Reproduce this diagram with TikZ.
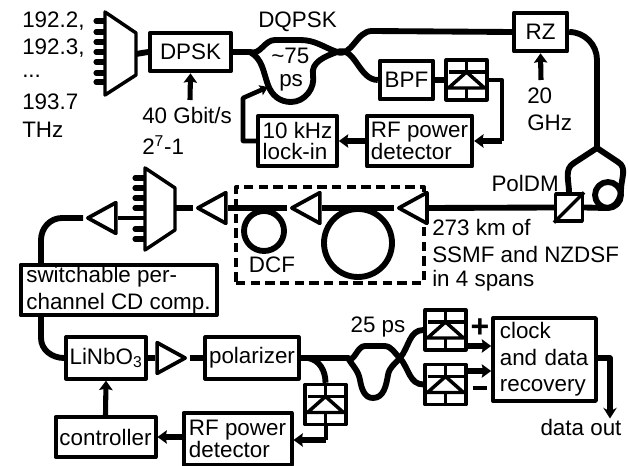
\documentclass[tikz,border=0pt]{standalone}
\usepackage{fontspec}
\setmainfont{Liberation Sans}
\usetikzlibrary{positioning,arrows.meta,shapes.geometric}

\begin{document}
\begin{tikzpicture}[
        x=0.75pt, y=-0.75pt,
        font=\fontsize{16.8}{20}\selectfont,
        line join=round,
        % Styles
        blockbox/.style={rectangle, draw=black, line width=3pt, fill=white, inner sep=0pt, align=left},
        tightbox/.style={blockbox, font=\fontsize{16.8}{16}\selectfont},
        pdbox/.style={rectangle, draw=black, line width=2.6pt, fill=white, inner sep=0pt, minimum width=30.5pt, minimum height=30pt},
        ampli/.style={isosceles triangle, isosceles triangle stretches, draw=black, line width=2.8pt, fill=white, inner sep=0pt, minimum width=23pt, minimum height=21pt},
        fiber/.style={line width=4.4pt},
        wire/.style={line width=2.6pt},
        sig/.style={line width=3.8pt, -{Stealth[length=7pt,width=10pt,inset=1pt]}},
        lbl/.style={inner sep=0pt, anchor=west}
    ]
    \useasboundingbox (0,0) rectangle (628,466);

    % ================= TRANSMITTER =================
    \node[lbl] (fa) at (22,21) {192.2,};
    \node[lbl] (fb) at (22,48) {192.3,};
    \node[lbl] (fc) at (22,76) {...};
    \node[lbl] (fd) at (22,102) {193.7};
    \node[lbl] (fe) at (22,130) {THz};

    % Mux
    \foreach \y in {21,32,42,52,62,73,82} {
        \draw[line width=3.8pt, line cap=round] (96,\y) -- (105,\y);
    }
    \draw[wire, fill=white] (105,12) -- (136,33) -- (136,75) -- (105,95) -- cycle;
    \coordinate (muxout) at (136,54);

    \node[blockbox, minimum width=60.5pt, minimum height=29pt] (dpsk) at (190.5,52) {DPSK};
    \draw[fiber] (muxout) -- (dpsk.west);
    \node[lbl] (bitrate) at (142,115) {40 Gbit/s};
    \node[lbl] (prbs) at (142,145) {2\textsuperscript{7}-1};
    \coordinate (bitin) at (190,100);
    \draw[sig] (bitin) -- (dpsk.south);

    \node[lbl] (dqpsk) at (258,22) {DQPSK};
    \node[lbl] (tau) at (271,56) {\char`\~75};
    \node[lbl] (tauu) at (279,83) {ps};

    % Delay interferometer
    \coordinate (dia) at (250,52);
    \coordinate (dib) at (337,52);
    \draw[fiber] (dpsk.east) -- (dia) to[out=-20,in=180] (275,40) -- (300,40) to[out=0,in=160] (dib);
    \draw[fiber] (dia) to[out=-30,in=110] (268,85) to[out=-70,in=180] (291,102) to[out=0,in=-80] (313,75) to[out=100,in=200] (dib);

    % Boxes of the lock
    \node[blockbox, minimum width=40pt, minimum height=29pt] (rz) at (540.5,32) {RZ};
    \node[blockbox, minimum width=40pt, minimum height=29pt] (bpf) at (406.5,80) {BPF};
    \node[pdbox] (pdtop) at (466.5,80) {};
    \node[tightbox, minimum width=79pt, minimum height=38pt] (rftop) at (419.5,141) {RF power\\detector};
    \node[tightbox, minimum width=59pt, minimum height=38pt] (lockin) at (297.5,141) {10 kHz\\lock-in};

    \draw[fiber] (dib) to[out=-20,in=180] (372,31) -- (rz.west);
    \draw[fiber] (dib) to[out=20,in=180] (bpf.west);
    \draw[fiber] (bpf.east) -- (pdtop.west);
    \coordinate (pdbend) at (502,141);
    \draw[line width=3pt] (pdtop.east) -| (pdbend);
    \draw[sig] (pdbend) -- (rftop.east);
    \draw[sig] (rftop.west) -- (lockin.east);
    \coordinate (lockbend) at (243,98);
    \coordinate (lockend) at (268,87);
    \draw[line width=3.4pt, -{Stealth[length=6pt,width=8pt,inset=1pt]}] (lockin.west) -| (lockbend) -- (lockend);

    % RZ drive
    \node[lbl] (rzf) at (527,96) {20};
    \node[lbl] (rzu) at (527,123) {GHz};
    \coordinate (rzin) at (541,80);
    \draw[sig] (rzin) -- (rz.south);

    % ================= POLARISATION MUX =================
    \node[pdbox, minimum width=20pt, minimum height=20pt] (poldm) at (569,207.5) {};
    \draw[wire] (poldm.south west) -- (poldm.north east);
    \node[inner sep=0pt, anchor=east] (poldmt) at (559,183) {PolDM};
    \coordinate (polsplit) at (597,148);
    \draw[fiber] (rz.east) to[out=0,in=90] (597,60) -- (polsplit);
    \draw[fiber] (polsplit) -- (574,163) to[out=-150,in=90] (poldm.north);
    \draw[fiber] (polsplit) -- (618,162) to[out=-30,in=90] (621,190) to[out=-90,in=0] (606,208) -- (poldm.east);
    \draw[fiber] (608,195) circle[radius=13];

    % ================= LINK =================
    \node[rectangle, draw=black, line width=3pt, dash pattern=on 7pt off 4pt, inner sep=0pt, minimum width=141pt, minimum height=72pt] (dcmbox) at (330,235) {};
    \node[ampli, shape border rotate=180, anchor=apex] (ampa) at (394,208) {};
    \node[ampli, shape border rotate=180, anchor=apex] (ampb) at (287,208) {};
    \node[ampli, shape border rotate=180, anchor=apex] (ampc) at (193,208) {};
    \draw[fiber] (poldm.west) -- (ampa.east);
    \draw[fiber] (ampa.apex) -- (ampb.east);
    \draw[fiber] (ampb.apex) -- (ampc.east);
    \draw[fiber] (358,243) circle[radius=34];
    \draw[fiber] (264,231) circle[radius=20];
    \node[inner sep=0pt] (dcf) at (272,265) {DCF};

    \node[lbl] (spana) at (432,227) {273 km of};
    \node[lbl] (spanb) at (432,254) {SSMF and NZDSF};
    \node[lbl] (spanc) at (432,281) {in 4 spans};

    % Demux
    \foreach \y in {178,188,198,208,229,239} {
        \draw[line width=3.8pt, line cap=round] (135,\y) -- (145,\y);
    }
    \draw[wire, fill=white] (145,168) -- (175,188) -- (175,230) -- (145,250) -- cycle;
    \coordinate (demuxin) at (175,208);
    \coordinate (demuxout) at (145,218);
    \draw[fiber] (ampc.apex) -- (demuxin);
    \node[ampli, shape border rotate=180, anchor=apex] (ampd) at (83,218) {};
    \draw[line width=3pt] (demuxout) -- (ampd.east);

    % ================= RECEIVER =================
    \node[blockbox, minimum width=147pt, minimum height=38pt] (cdcomp) at (118.5,290) {switchable per-\\channel CD comp.};
    \draw[fiber] (ampd.apex) -- (62,218) to[out=180,in=90] (41,240) -- (41,263);
    \node[blockbox, minimum width=60pt, minimum height=31pt] (linbo) at (106,358) {LiNbO\textsubscript{3}};
    \draw[fiber] (41,317) -- (41,338) to[out=-90,in=180] (linbo.west);
    \node[ampli, anchor=apex] (ampe) at (190,358) {};
    \draw[fiber] (linbo.east) -- (ampe.west);
    \node[blockbox, minimum width=70pt, minimum height=31pt] (polar) at (252,358) {polarizer};
    \draw[fiber] (ampe.apex) -- (polar.west);

    % 25 ps interferometer
    \coordinate (dla) at (348,358);
    \coordinate (dlb) at (400,358);
    \node[inner sep=0pt] (dlt) at (378,327) {25 ps};
    \draw[fiber] (polar.east) -- (dla) to[out=-40,in=180] (365,346) -- (384,346) to[out=0,in=140] (dlb);
    \draw[fiber] (dla) to[out=-60,in=100] (360,380) to[out=-80,in=180] (373,398) to[out=0,in=-100] (388,375) to[out=80,in=-130] (dlb);

    \node[pdbox] (pda) at (445.5,330) {};
    \node[pdbox] (pdb) at (445.5,384.5) {};
    \node[pdbox] (pdc) at (325.5,404.5) {};
    \draw[fiber] (dlb) to[out=50,in=180] (pda.west);
    \draw[fiber] (dlb) to[out=-50,in=180] (pdb.west);
    \coordinate (pdctap) at (308,358);
    \draw[fiber] (pdctap) to[out=-10,in=90] (pdc.north);

    % Photodiode glyphs
    \foreach \pd in {pdtop,pda,pdb,pdc} {
        \draw[wire] (\pd.north) -- (\pd.south);
        \draw[wire] ([xshift=-13.5pt,yshift=6pt]\pd.center) -- ([xshift=13.5pt,yshift=6pt]\pd.center);
        \draw[wire, fill=white] ([yshift=6pt]\pd.center) -- ([xshift=-13.5pt,yshift=-6pt]\pd.center) -- ([xshift=13.5pt,yshift=-6pt]\pd.center) -- cycle;
    }

    \node[blockbox, minimum width=77pt, minimum height=62pt, text width=67pt] (cdr) at (544.5,359.5) {clock\\and data\\recovery};
    \draw[sig] (pda.east |- 0,346) -- (cdr.west |- 0,346);
    \draw[sig] (pdb.east |- 0,371) -- (cdr.west |- 0,371);
    \node[inner sep=0pt, font=\fontsize{24}{24}\bfseries\selectfont] (plus) at (480,328) {+};
    \node[inner sep=0pt] (minus) at (480,388) {\rule{11pt}{3pt}};
    \node[inner sep=0pt] (dataout) at (581,427) {data out};
    \coordinate (cdrbend) at (610,358);
    \draw[line width=3.8pt, -{Stealth[length=8pt,width=10pt]}] (cdr.east |- cdrbend) -- (cdrbend) -- (dataout.north -| cdrbend);

    \node[tightbox, minimum width=81pt, minimum height=39pt] (rfbot) at (237.5,439) {RF power\\detector};
    \node[blockbox, minimum width=75pt, minimum height=30pt] (ctrl) at (105.5,437) {controller};
    \coordinate (pdcbend) at (325.5,440);
    \draw[line width=3pt] (pdc.south) -- (pdcbend);
    \draw[sig] (pdcbend) -- (rfbot.east |- pdcbend);
    \draw[sig] (rfbot.west |- ctrl) -- (ctrl.east);
    \draw[sig] (ctrl.north) -- (linbo.south);

\end{tikzpicture}
\end{document}
